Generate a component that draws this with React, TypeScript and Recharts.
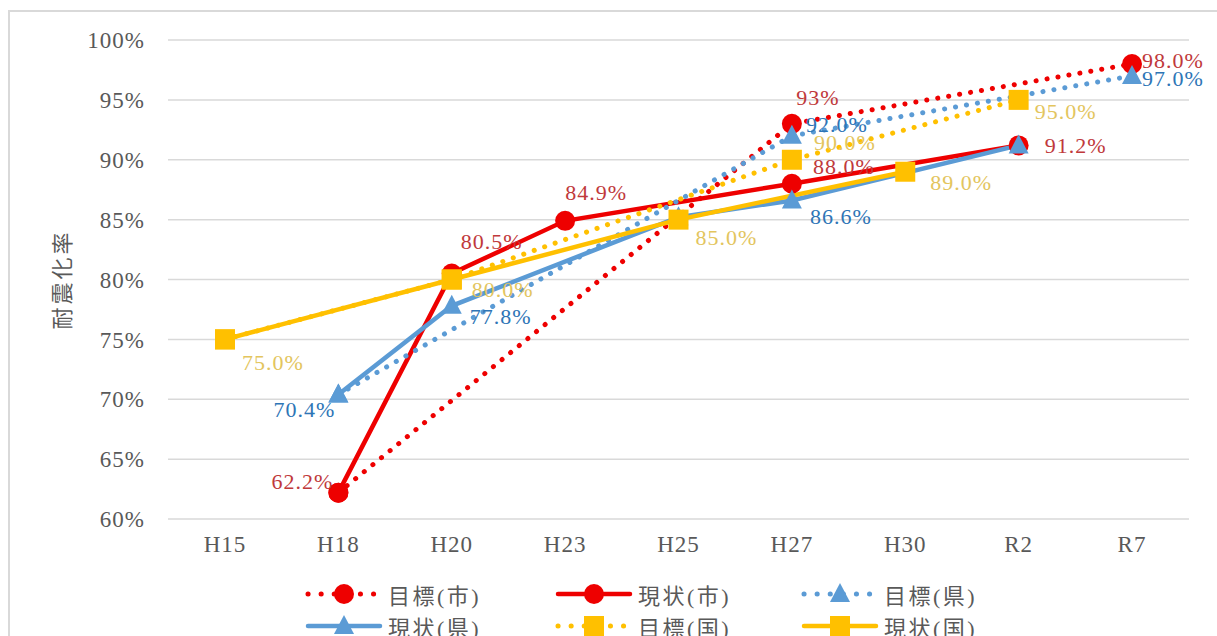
import { CartesianGrid, LabelList, Line, LineChart, XAxis, YAxis } from "recharts";

// 耐震化率の推移 (市・県・国の目標と現状)。点線 = 目標、実線 = 現状。

const categories = ["H15", "H18", "H20", "H23", "H25", "H27", "H30", "R2", "R7"];
const yTicks = [60, 65, 70, 75, 80, 85, 90, 95, 100];

const targetCity = [null, 62.2, null, null, null, 93, null, null, 98.0];
const currentCity = [null, 62.2, 80.5, 84.9, null, 88.0, null, 91.2, null];
const targetPref = [null, 70.4, null, null, null, 92.0, null, null, 97.0];
const currentPref = [null, 70.4, 77.8, null, 85.2, 86.6, null, 91.2, null];
const targetNation = [75.0, null, 80.0, null, null, 90.0, null, 95.0, null];
const currentNation = [75.0, null, 80.0, null, 85.0, null, 89.0, null, null];

const data = categories.map((name, i) => ({
  name,
  targetCity: targetCity[i],
  currentCity: currentCity[i],
  targetPref: targetPref[i],
  currentPref: currentPref[i],
  targetNation: targetNation[i],
  currentNation: currentNation[i],
}));

const FONT = "'Liberation Serif', 'DejaVu Serif', 'Noto Sans CJK JP', serif";
const AXIS_TEXT = "#595959";
const RED = "#ee0000";
const BLUE = "#5b9bd5";
const YELLOW = "#ffc000";
const RED_TEXT = "#c0393b";
const BLUE_TEXT = "#2e75b6";
const YELLOW_TEXT = "#e3c55e";

type Marker = "circle" | "triangle" | "square";
type Place = { dx: number; dy: number; anchor?: "start" | "middle" | "end"; whole?: boolean };

// label placement per series, keyed by category index
const placements: Record<string, Record<number, Place>> = {
  targetCity: { 1: { dx: -36, dy: -11 }, 5: { dx: 26, dy: -26, whole: true }, 8: { dx: 10, dy: -3, anchor: "start" } },
  currentCity: {
    2: { dx: 40, dy: -32 },
    3: { dx: 31, dy: -28 },
    5: { dx: 21, dy: -17, anchor: "start" },
    7: { dx: 26, dy: 0, anchor: "start" },
  },
  targetPref: { 5: { dx: 14, dy: -11, anchor: "start" }, 8: { dx: 10, dy: 3, anchor: "start" } },
  currentPref: {
    1: { dx: -3, dy: 15, anchor: "end" },
    2: { dx: 18, dy: 11, anchor: "start" },
    5: { dx: 18, dy: 16, anchor: "start" },
  },
  targetNation: { 5: { dx: 22, dy: -17, anchor: "start" }, 7: { dx: 16, dy: 12, anchor: "start" } },
  currentNation: {
    0: { dx: 17, dy: 23, anchor: "start" },
    2: { dx: 20, dy: 10, anchor: "start" },
    4: { dx: 17, dy: 18, anchor: "start" },
    6: { dx: 25, dy: 11, anchor: "start" },
  },
};

const drawMarker = (kind: Marker, color: string, cx: number, cy: number, key?: string) => {
  if (kind === "circle") return <circle key={key} cx={cx} cy={cy} r={10} fill={color} />;
  if (kind === "triangle")
    return <polygon key={key} points={`${cx},${cy - 11} ${cx + 10},${cy + 8} ${cx - 10},${cy + 8}`} fill={color} />;
  return <rect key={key} x={cx - 10} y={cy - 10} width={20} height={20} fill={color} />;
};

const makeDot = (kind: Marker, color: string) => (props: any) => {
  const { cx, cy, value, index, dataKey } = props;
  if (value == null || cx == null || cy == null) return <g key={`${dataKey}-${index}`} />;
  return drawMarker(kind, color, cx, cy, `${dataKey}-${index}`);
};

const makeLabel = (series: string, color: string) => (props: any) => {
  const { x, y, value, index } = props;
  const place = placements[series][index];
  if (value == null || !place || x == null || y == null) return null;
  const text = place.whole ? `${Math.round(value)}%` : `${Number(value).toFixed(1)}%`;
  return (
    <text
      key={`${series}-l-${index}`}
      x={x + place.dx}
      y={y + place.dy}
      fill={color}
      fontSize={22}
      letterSpacing={1}
      fontFamily={FONT}
      textAnchor={place.anchor ?? "middle"}
      dominantBaseline="central"
    >
      {text}
    </text>
  );
};

const seriesList = [
  { key: "targetCity", name: "目標(市)", color: RED, text: RED_TEXT, marker: "circle" as Marker, dotted: true },
  { key: "currentCity", name: "現状(市)", color: RED, text: RED_TEXT, marker: "circle" as Marker, dotted: false },
  { key: "targetPref", name: "目標(県)", color: BLUE, text: BLUE_TEXT, marker: "triangle" as Marker, dotted: true },
  { key: "currentPref", name: "現状(県)", color: BLUE, text: BLUE_TEXT, marker: "triangle" as Marker, dotted: false },
  { key: "targetNation", name: "目標(国)", color: YELLOW, text: YELLOW_TEXT, marker: "square" as Marker, dotted: true },
  { key: "currentNation", name: "現状(国)", color: YELLOW, text: YELLOW_TEXT, marker: "square" as Marker, dotted: false },
];

const legendCols = [300, 550, 796];

const LegendBox = () => (
  <div style={{ position: "absolute", left: 0, top: 578, width: 1217, height: 60 }}>
    {seriesList.map((s, i) => {
      const left = legendCols[i % 3];
      const top = i < 3 ? 0 : 32;
      return (
        <div key={s.key} style={{ position: "absolute", left, top, display: "flex", alignItems: "center", height: 32 }}>
          <svg width={84} height={32}>
            <line
              x1={8}
              x2={80}
              y1={16}
              y2={16}
              stroke={s.color}
              strokeWidth={s.dotted ? 5 : 4.5}
              strokeLinecap="round"
              strokeDasharray={s.dotted ? "0.1 13" : undefined}
            />
            {drawMarker(s.marker, s.color, 44, 16)}
          </svg>
          <span
            style={{ fontFamily: FONT, fontSize: 22, color: AXIS_TEXT, marginLeft: 4, letterSpacing: 2.5, whiteSpace: "nowrap" }}
          >
            {s.name}
          </span>
        </div>
      );
    })}
  </div>
);

const AxisTitle = (props: any) => {
  const { viewBox } = props;
  const cy = viewBox.y + viewBox.height / 2;
  return (
    <text
      x={62}
      y={cy}
      transform={`rotate(-90, 62, ${cy})`}
      textAnchor="middle"
      dominantBaseline="central"
      fill={AXIS_TEXT}
      fontSize={22}
      letterSpacing={3}
      fontFamily={FONT}
    >
      耐震化率
    </text>
  );
};

export default function App() {
  return (
    <div style={{ position: "absolute", left: 0, top: 0, width: 1217, height: 636, background: "#fff", overflow: "hidden" }}>
      <div
        style={{
          position: "absolute",
          left: 8,
          top: 10,
          width: 1240,
          height: 660,
          border: "2px solid #d9d9d9",
        }}
      />
      <LineChart width={1217} height={636} data={data} margin={{ top: 40, right: 28, left: 88, bottom: 87 }}>
        <CartesianGrid vertical={false} stroke="#d9d9d9" strokeWidth={1.5} />
        <XAxis
          dataKey="name"
          axisLine={false}
          tickLine={false}
          tickSize={0}
          tickMargin={17}
          height={30}
          padding={{ left: 57, right: 57 }}
          tick={{ fill: AXIS_TEXT, fontSize: 23, fontFamily: FONT, letterSpacing: 1 }}
        />
        <YAxis
          domain={[60, 100]}
          ticks={yTicks}
          axisLine={false}
          tickLine={false}
          tickSize={0}
          tickMargin={23}
          width={80}
          tickFormatter={(v: number) => `${v}%`}
          tick={{ fill: AXIS_TEXT, fontSize: 23, fontFamily: FONT, letterSpacing: 1 }}
          label={{ content: AxisTitle }}
        />
        {seriesList.map((s) => (
          <Line
            key={s.key}
            dataKey={s.key}
            name={s.name}
            stroke={s.color}
            strokeWidth={s.dotted ? 5 : 4.5}
            strokeLinecap="round"
            strokeDasharray={s.dotted ? "0.1 11" : undefined}
            connectNulls
            dot={makeDot(s.marker, s.color)}
            activeDot={false}
            isAnimationActive={false}
          >
            <LabelList dataKey={s.key} content={makeLabel(s.key, s.text)} />
          </Line>
        ))}
      </LineChart>
      <LegendBox />
    </div>
  );
}
